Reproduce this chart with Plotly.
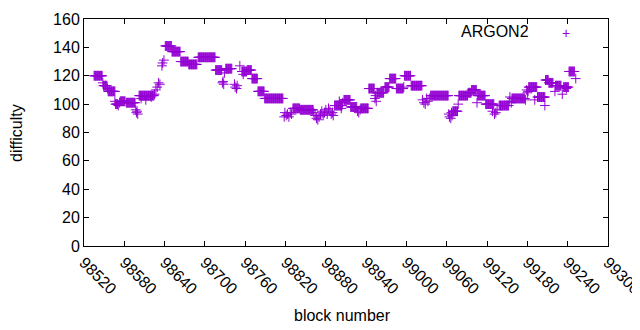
import plotly.graph_objects as go

# Runs of consecutive blocks sharing the same difficulty
run_start = [98535, 98549, 98556, 98567, 98574, 98583, 98602, 98641, 98651, 98664,
             98676, 98690, 98716, 98731, 98755, 98763, 98770, 98779, 98789, 98831,
             98842, 98893, 98907, 98917, 98932, 98944, 98956, 98968, 98975, 98985,
             98997, 99007, 99036, 99069, 99078, 99092, 99097, 99106, 99118, 99138,
             99157, 99182, 99195, 99207, 99212, 99222, 99234, 99242]
run_end = [98547, 98554, 98566, 98570, 98581, 98596, 98624, 98650, 98663, 98675,
           98688, 98715, 98725, 98740, 98762, 98769, 98778, 98788, 98816, 98841,
           98861, 98904, 98916, 98926, 98943, 98952, 98966, 98974, 98984, 98995,
           99006, 99023, 99062, 99076, 99091, 99096, 99104, 99117, 99130, 99152,
           99176, 99194, 99206, 99211, 99218, 99230, 99241, 99250]
run_value = [120, 113, 109, 100, 102, 101, 106, 141, 137, 130,
             128, 133, 124, 125, 123, 124, 118, 109, 104, 97,
             96, 99, 103, 98, 97, 111, 108, 112, 118, 111,
             120, 113, 106, 95, 106, 108, 110, 106, 100, 99,
             104, 112, 105, 117, 115, 113, 112, 123]

# Isolated blocks
single_block = [98548, 98555, 98566, 98571, 98573, 98597, 98598, 98599, 98600, 98605,
                98612, 98620, 98625, 98627, 98629, 98631, 98633, 98636, 98637, 98639,
                98726, 98727, 98728, 98729, 98744, 98745, 98747, 98748, 98752, 98757,
                98818, 98819, 98821, 98823, 98825, 98827, 98829, 98862, 98864, 98866,
                98868, 98870, 98872, 98874, 98876, 98878, 98880, 98882, 98884, 98886,
                98888, 98890, 98891, 98900, 98903, 98905, 98927, 98929, 98931, 98953,
                98954, 98955, 98996, 99024, 99026, 99028, 99030, 99032, 99034, 99063,
                99064, 99066, 99067, 99068, 99077, 99105, 99128, 99131, 99133, 99135,
                99153, 99154, 99156, 99177, 99179, 99180, 99181, 99191, 99206, 99221,
                99232, 99238, 99252]
single_value = [115, 111, 102, 99, 101, 96, 94, 95, 93, 104,
                103, 105, 107, 110, 112, 115, 114, 127, 129, 131,
                115, 116, 114, 122, 114, 112, 111, 113, 127, 121,
                91, 94, 92, 93, 91, 94, 93, 94, 92, 90,
                89, 91, 93, 95, 92, 94, 96, 93, 97, 95,
                93, 94, 92, 102, 97, 101, 95, 94, 96, 104,
                106, 102, 112, 103, 101, 100, 104, 102, 104, 93,
                91, 90, 94, 92, 100, 101, 95, 93, 94, 96,
                102, 105, 101, 103, 110, 108, 109, 103, 99, 109,
                107, 111, 118]

x_ticks = list(range(98520, 99301, 60))
y_ticks = list(range(0, 161, 20))

blocks, diffs = [], []
for s, e, v in zip(run_start, run_end, run_value):
    for b in range(s, e + 1):
        blocks.append(b)
        diffs.append(v)
for b, v in zip(single_block, single_value):
    blocks.append(b)
    diffs.append(v)

COLOR = "#9400D3"
FONT = "Liberation Sans, Arial, sans-serif"

fig = go.Figure()
fig.add_trace(go.Scatter(
    x=blocks, y=diffs, mode="markers", name="ARGON2", showlegend=False,
    marker=dict(symbol="cross-thin-open", size=7, color=COLOR,
                line=dict(color=COLOR, width=1)),
))

axis_common = dict(
    showgrid=False, zeroline=False, showline=True, linecolor="black", linewidth=1,
    mirror="allticks", ticks="inside", ticklen=5, tickcolor="black",
    tickfont=dict(family=FONT, size=16, color="black"), automargin=False,
)
fig.update_xaxes(range=[98520, 99300.01], tickvals=x_ticks,
                 ticktext=[str(t) for t in x_ticks], tickangle=45, **axis_common)
fig.update_yaxes(range=[0, 160], tickvals=y_ticks,
                 ticktext=[str(t) for t in y_ticks], **axis_common)

fig.update_layout(
    width=640, height=330, margin=dict(l=76, r=40, t=11, b=92),
    paper_bgcolor="white", plot_bgcolor="white",
    font=dict(family=FONT, size=16, color="black"),
    annotations=[
        dict(text="difficulty", xref="paper", yref="paper", x=-0.128, y=0.498,
             showarrow=False, textangle=-90, font=dict(size=16),
             xanchor="center", yanchor="middle"),
        dict(text="block number", xref="paper", yref="paper", x=0.494, y=-0.308,
             showarrow=False, font=dict(size=16), xanchor="center", yanchor="middle"),
        dict(text="ARGON2", xref="paper", yref="paper", x=0.853, y=0.947,
             showarrow=False, font=dict(size=16), xanchor="right", yanchor="middle"),
        dict(text="+", xref="paper", yref="paper", x=0.92, y=0.94,
             showarrow=False, font=dict(size=14, color=COLOR),
             xanchor="center", yanchor="middle"),
    ],
)

fig.write_html("out.html")
